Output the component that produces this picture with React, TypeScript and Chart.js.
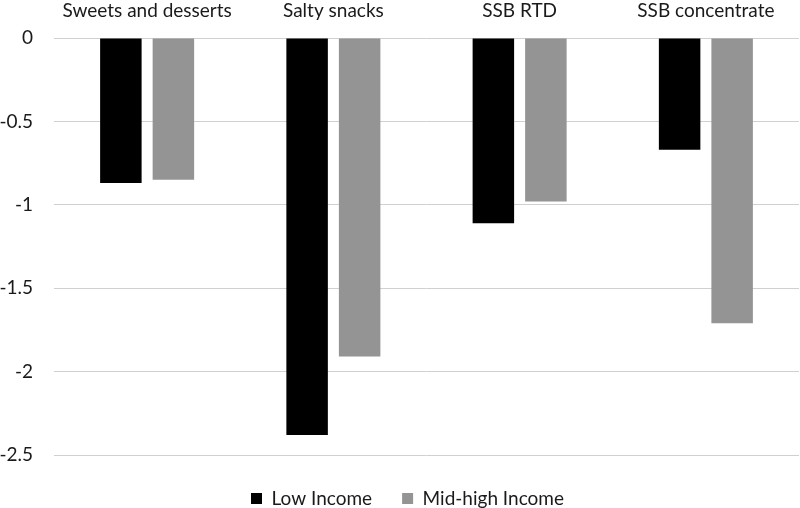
import React, { useEffect, useRef } from "react";
import { Chart, registerables } from "chart.js";

Chart.register(...registerables);

const categories = ["Sweets and desserts", "Salty snacks", "SSB RTD", "SSB concentrate"];
const lowIncome = [-0.87, -2.38, -1.11, -0.67];
const midHighIncome = [-0.85, -1.91, -0.98, -1.71];
const seriesNames = ["Low Income", "Mid-high Income"];
const seriesColors = ["#000000", "#949494"];
const yMin = -2.5;
const yMax = 0;
const yStep = 0.5;

const FONT = "Lato, 'Open Sans', sans-serif";

const legendShift = {
  id: "legendShift",
  afterLayout(chart: any) {
    const lg = chart.legend;
    if (lg) {
      lg.top += 4;
      lg.bottom += 4;
      lg.left += 8;
      lg.right += 8;
    }
  },
};

export default function App() {
  const ref = useRef<HTMLCanvasElement | null>(null);

  useEffect(() => {
    document.body.style.margin = "0";
    const canvas = ref.current;
    if (!canvas) return;
    const chart = new Chart(canvas, {
      type: "bar",
      data: {
        labels: categories,
        datasets: [
          {
            label: seriesNames[0],
            data: lowIncome,
            backgroundColor: seriesColors[0],
            categoryPercentage: 0.564,
            barPercentage: 0.79,
          },
          {
            label: seriesNames[1],
            data: midHighIncome,
            backgroundColor: seriesColors[1],
            categoryPercentage: 0.564,
            barPercentage: 0.79,
          },
        ],
      },
      plugins: [legendShift],
      options: {
        animation: false,
        responsive: false,
        maintainAspectRatio: false,
        layout: { padding: { top: 0, right: 1, bottom: -6, left: 0 } },
        plugins: {
          tooltip: { enabled: false },
          legend: {
            position: "bottom",
            labels: {
              boxWidth: 11,
              boxHeight: 11,
              padding: 30,
              color: "#1a1a1a",
              font: { family: FONT, size: 19 },
            },
          },
        },
        scales: {
          x: {
            position: "top",
            grid: { display: false, drawTicks: false },
            border: { display: false },
            ticks: {
              color: "#1a1a1a",
              padding: 16,
              maxRotation: 0,
              autoSkip: false,
              font: { family: FONT, size: 19 },
            },
            afterFit: (scale: any) => {
              scale.height = 38;
            },
          },
          y: {
            min: yMin,
            max: yMax,
            grid: { color: "#d0d0d0", lineWidth: 1, drawTicks: false },
            border: { display: false },
            ticks: {
              stepSize: yStep,
              color: "#1a1a1a",
              padding: 21,
              font: { family: FONT, size: 19 },
              callback: (v: any) => String(Number(v)),
            },
            afterFit: (scale: any) => {
              scale.width = 54;
            },
          },
        },
      },
    });
    return () => chart.destroy();
  }, []);

  return (
    <div style={{ width: 800, height: 508, background: "#fff" }}>
      <canvas ref={ref} width={800} height={508} style={{ display: "block" }} />
    </div>
  );
}
